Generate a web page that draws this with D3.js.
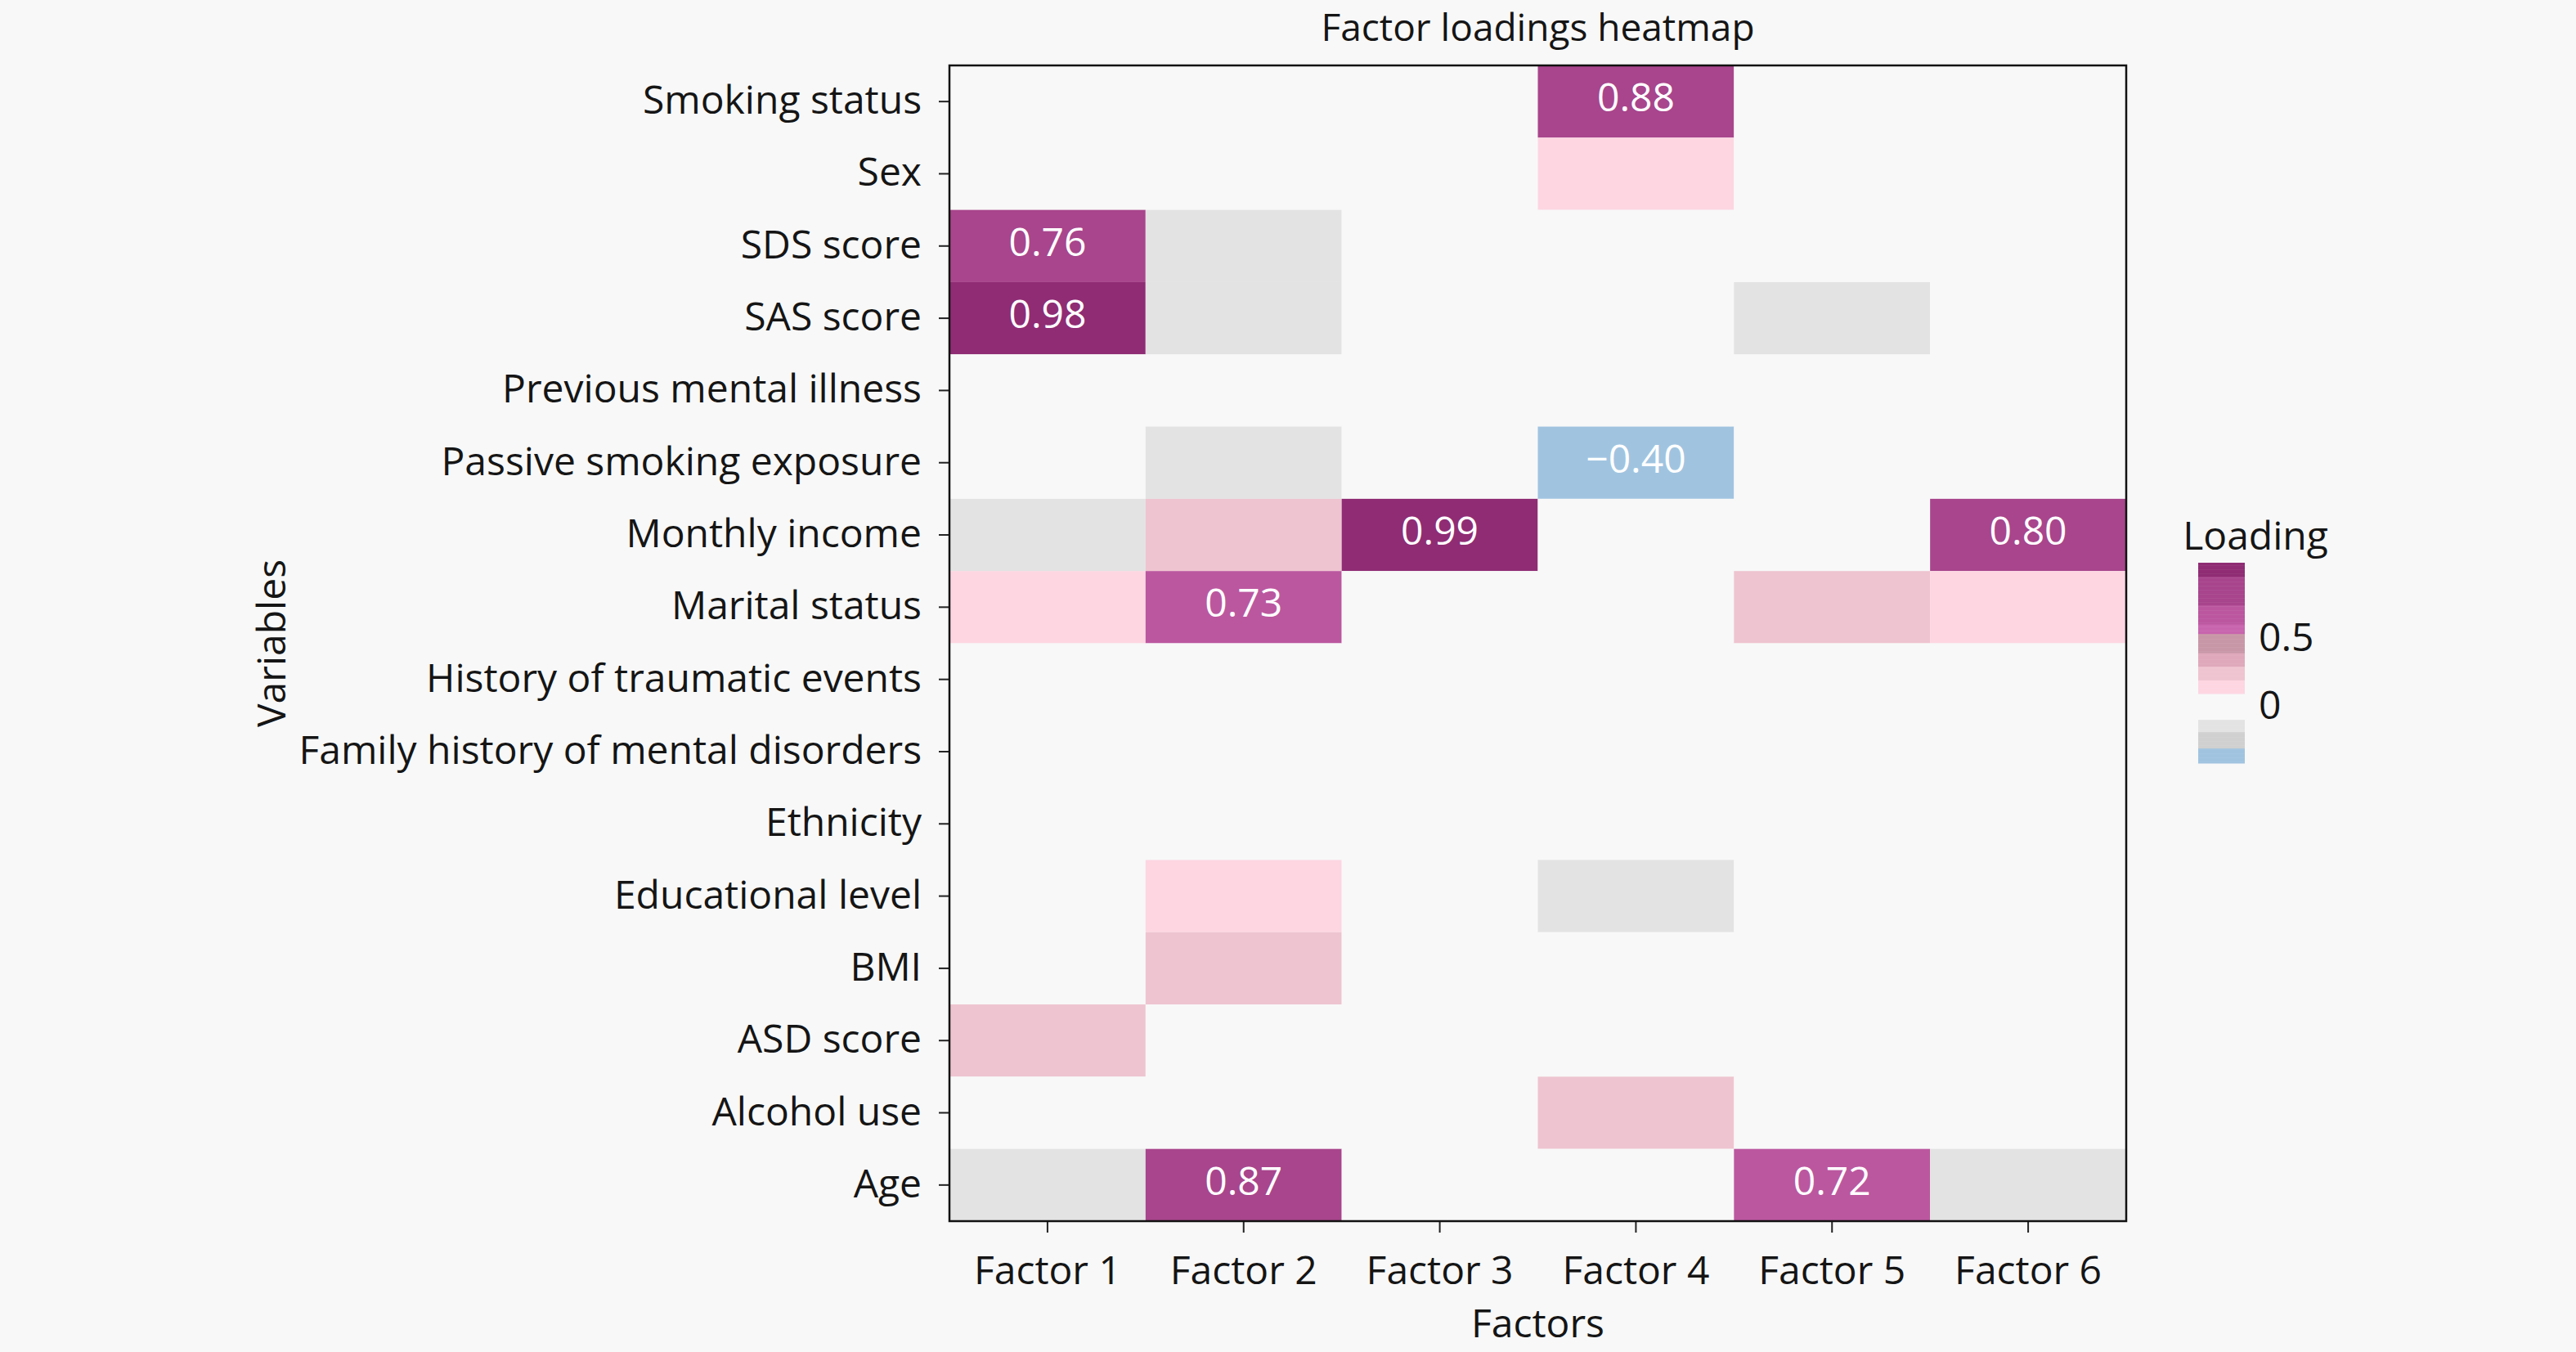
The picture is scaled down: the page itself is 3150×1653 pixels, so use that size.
<!DOCTYPE html>
<html><head><meta charset="utf-8">
<script src="https://cdn.jsdelivr.net/npm/d3@7/dist/d3.min.js"></script>
<style>html,body{margin:0;padding:0;background:#f8f8f8;}</style>
</head><body>
<svg id="chart" width="3150" height="1653"></svg>
<script>
const variables = ["Smoking status","Sex","SDS score","SAS score","Previous mental illness","Passive smoking exposure","Monthly income","Marital status","History of traumatic events","Family history of mental disorders","Ethnicity","Educational level","BMI","ASD score","Alcohol use","Age"];
const factors = ["Factor 1","Factor 2","Factor 3","Factor 4","Factor 5","Factor 6"];
const loadings = [
  [0.02, 0.03, 0.01, 0.88, 0.04, 0.05],
  [0.05, 0.02, 0.03, 0.15, 0.01, 0.04],
  [0.76, -0.15, 0.02, 0.03, 0.05, 0.01],
  [0.98, -0.15, 0.03, 0.02, -0.14, 0.04],
  [0.01, 0.03, 0.02, 0.04, 0.02, 0.03],
  [0.04, -0.13, 0.02, -0.40, 0.03, 0.01],
  [-0.14, 0.25, 0.99, 0.05, 0.03, 0.80],
  [0.15, 0.73, 0.04, 0.02, 0.24, 0.16],
  [0.02, 0.01, 0.03, 0.02, 0.04, 0.01],
  [0.03, 0.02, 0.01, 0.04, 0.02, 0.03],
  [0.01, 0.04, 0.02, 0.03, 0.01, 0.02],
  [0.03, 0.16, 0.02, -0.12, 0.04, 0.01],
  [0.02, 0.24, 0.04, 0.03, 0.02, 0.05],
  [0.25, 0.03, 0.02, 0.04, 0.05, 0.03],
  [0.04, 0.02, 0.03, 0.26, 0.01, 0.02],
  [-0.14, 0.87, 0.04, 0.03, 0.72, -0.13]
];
const colorThresholds = [-0.31, -0.19, -0.10, 0.09, 0.19, 0.29, 0.39, 0.53, 0.60, 0.745, 0.95];
const colorRange = ["#a0c4e0","#d0d0d0","#e3e3e3","#f8f8f8","#fdd6e2","#eec4d0","#dfa9bb","#c897a7","#c865ae","#bb579f","#a8458c","#8f2c74"];
const legendTicks = [0, 0.5];
const legendDomain = [-0.42, 1.05];

const FONT = "'Open Sans', 'Noto Sans', sans-serif";
const FS = 48;
const TXT = "#151515";
const svg = d3.select("#chart");
const L = 1161, R = 2600, T = 80, B = 1493;

const x = d3.scaleBand().domain(factors).range([L, R]);
const y = d3.scaleBand().domain(variables).range([T, B]);
const color = d3.scaleThreshold().domain(colorThresholds).range(colorRange);

const cells = [];
variables.forEach((v, i) => factors.forEach((f, j) => cells.push({v, f, val: loadings[i][j]})));

svg.append("g").selectAll("rect").data(cells).join("rect")
  .attr("x", d => x(d.f)).attr("y", d => y(d.v))
  .attr("width", x.bandwidth()).attr("height", y.bandwidth())
  .attr("fill", d => color(d.val));

svg.append("g").selectAll("text").data(cells.filter(d => Math.abs(d.val) >= 0.4)).join("text")
  .attr("x", d => x(d.f) + x.bandwidth()/2)
  .attr("y", d => y(d.v) + y.bandwidth()/2 + 12)
  .attr("text-anchor", "middle")
  .attr("fill", "#ffffff").attr("font-family", FONT).attr("font-size", FS)
  .text(d => d.val.toFixed(2).replace("-", "\u2212"));

// axes
const yAxis = svg.append("g").attr("transform", `translate(${L},0)`)
  .call(d3.axisLeft(y).tickSize(13).tickPadding(21));
const xAxis = svg.append("g").attr("transform", `translate(0,${B})`)
  .call(d3.axisBottom(x).tickSize(14).tickPadding(26));
[yAxis, xAxis].forEach(g => {
  g.select(".domain").remove();
  g.selectAll(".tick line").attr("stroke", "#222").attr("stroke-width", 2);
  g.selectAll(".tick text").attr("font-family", FONT).attr("font-size", FS).attr("fill", TXT);
});
yAxis.selectAll(".tick text").attr("dy", null).attr("y", 15);
xAxis.selectAll(".tick text").attr("dy", null).attr("y", 77);

svg.append("rect").attr("x", L).attr("y", T).attr("width", R - L).attr("height", B - T)
  .attr("fill", "none").attr("stroke", "#111").attr("stroke-width", 2.5);

svg.append("text").attr("x", (L + R)/2).attr("y", 50).attr("text-anchor", "middle")
  .attr("font-family", FONT).attr("font-size", 46).attr("fill", TXT)
  .text("Factor loadings heatmap");
svg.append("text").attr("x", (L + R)/2).attr("y", 1635).attr("text-anchor", "middle")
  .attr("font-family", FONT).attr("font-size", FS).attr("fill", TXT)
  .text("Factors");
svg.append("text").attr("transform", `translate(349,${(T + B)/2}) rotate(-90)`).attr("text-anchor", "middle")
  .attr("font-family", FONT).attr("font-size", FS).attr("fill", TXT)
  .text("Variables");

// legend
const lx = 2688, lw = 57;
const ly = d3.scaleLinear().domain(legendDomain).range([933, 688]);
const steps = d3.range(legendDomain[0], legendDomain[1], 0.01);
svg.append("g").selectAll("rect").data(steps).join("rect")
  .attr("x", lx).attr("width", lw)
  .attr("y", d => ly(Math.min(d + 0.01, legendDomain[1])))
  .attr("height", d => ly(d) - ly(Math.min(d + 0.01, legendDomain[1])) + 0.5)
  .attr("fill", d => color(d + 0.005));
svg.append("g").selectAll("text").data(legendTicks).join("text")
  .attr("x", 2762).attr("y", d => ly(d) + 16)
  .attr("font-family", FONT).attr("font-size", FS).attr("fill", TXT)
  .text(d => d);
svg.append("text").attr("x", 2758).attr("y", 672).attr("text-anchor", "middle")
  .attr("font-family", FONT).attr("font-size", FS).attr("fill", TXT).text("Loading");
</script>
</body></html>
